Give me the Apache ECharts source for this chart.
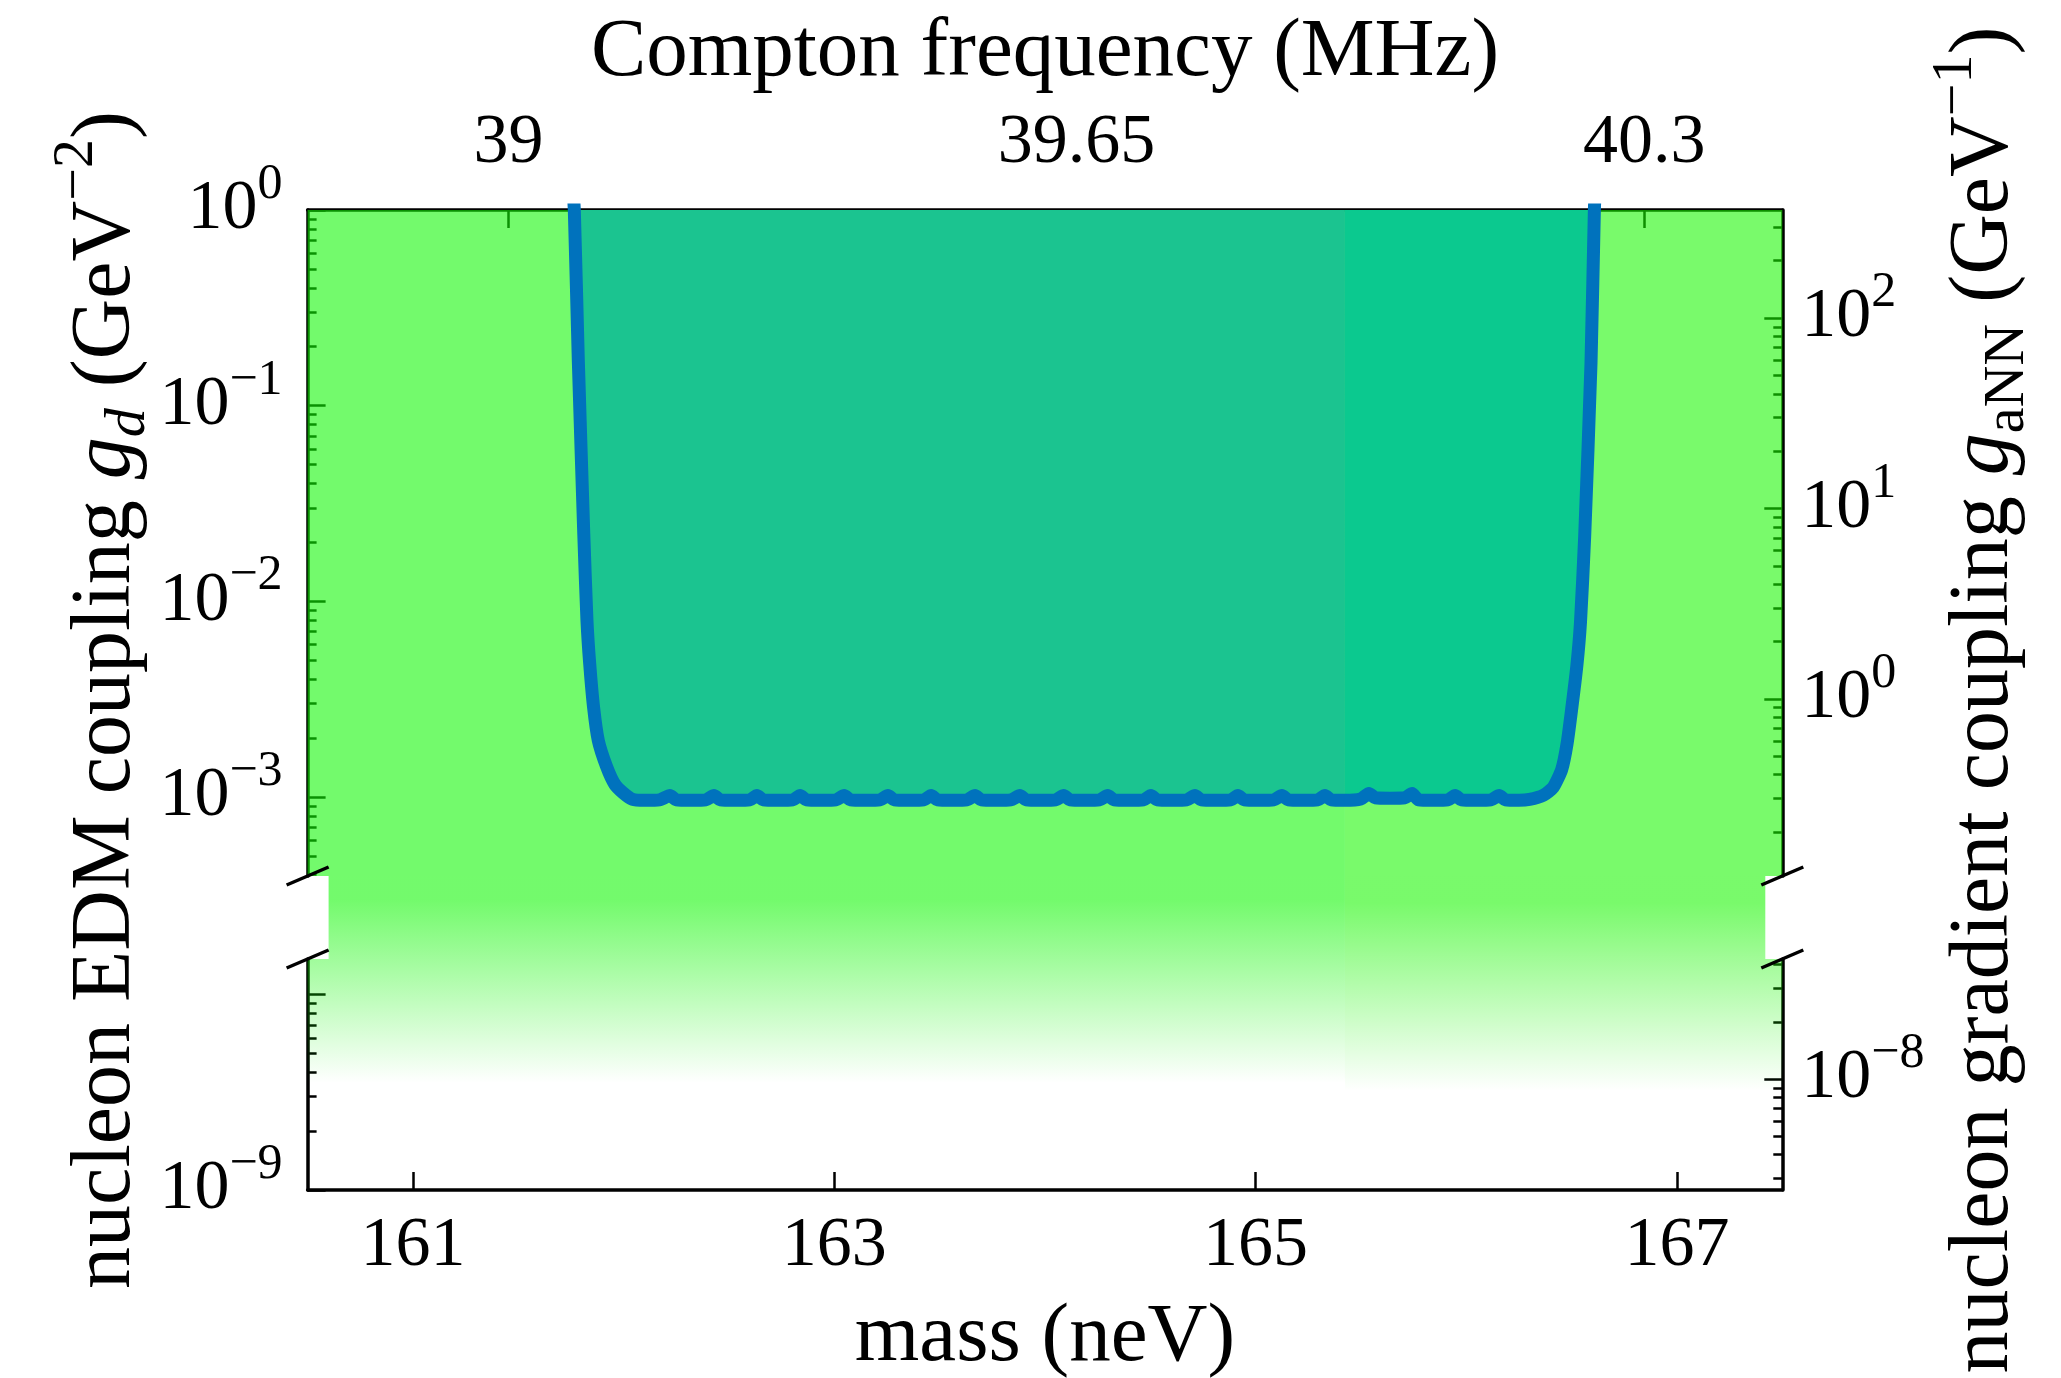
<!DOCTYPE html>
<html>
<head>
<meta charset="utf-8">
<script src="https://cdn.jsdelivr.net/npm/echarts@6/dist/echarts.min.js"></script>
<style>
html,body{margin:0;padding:0;background:#ffffff;}
#chart{width:2061px;height:1378px;}
</style>
</head>
<body>
<div id="chart"></div>
<script>
// ---------------- data ----------------
const massRange = [160.5, 167.5];            // neV
const freqRange = [38.770, 40.458];          // MHz (top axis, aligned with mass axis)
const gdUpperRange = [3.94e-4, 1];           // GeV^-2, upper panel
const gdLowerRange = [1e-9, 1.52e-8];        // GeV^-2, lower panel
const gaUpperRange = [0.1175, 369.4];        // GeV^-1, upper panel (right axis)
const gaLowerRange = [2.61e-9, 4.28e-8];     // GeV^-1, lower panel (right axis)

const massTicks = [161, 163, 165, 167];
const freqTicks = [39, 39.65, 40.3];
const gdUpperTicks = [1e-3, 1e-2, 1e-1, 1];
const gdLowerMajor = [1e-9, 1e-8];
const gdLowerLabels = [1e-9];
const gaUpperTicks = [1, 10, 100];
const gaLowerTicks = [1e-8];

// mass boundary between the two measurement bands
const bandEdges = [160.5, 165.424, 167.5];

// exclusion limit curve (mass in neV, g_d in GeV^-2)
const curveMass = [
  161.755, 161.766, 161.785, 161.811, 161.826, 161.839, 161.857, 161.880, 161.919, 161.958, 161.997, 162.043, 162.100, 162.170,
  162.220, 162.250, 162.320, 162.390,
  162.429, 162.459, 162.529, 162.599,
  162.633, 162.663, 162.733, 162.803,
  162.838, 162.868, 162.938, 163.008,
  163.047, 163.077, 163.147, 163.217,
  163.255, 163.285, 163.355, 163.425,
  163.460, 163.490, 163.560, 163.630,
  163.668, 163.698, 163.768, 163.838,
  163.881, 163.911, 163.981, 164.051,
  164.089, 164.119, 164.189, 164.259,
  164.298, 164.328, 164.398, 164.468,
  164.503, 164.533, 164.603, 164.673,
  164.712, 164.742, 164.812, 164.882,
  164.916, 164.946, 165.016, 165.086,
  165.125, 165.155, 165.225, 165.295,
  165.329, 165.359, 165.424, 165.499,
  165.538, 165.568, 165.638, 165.708,
  165.743, 165.773, 165.843, 165.913,
  165.947, 165.977, 166.047, 166.117,
  166.156, 166.186, 166.250, 166.300,
  166.366, 166.413, 166.453, 166.478, 166.500, 166.525, 166.542, 166.562, 166.592, 166.608, 166.615
];
const curveG = [
  1.5, 1.0, 0.17, 0.022, 0.0080, 0.0048, 0.0029, 0.00194, 0.00143, 0.00116, 0.00105, 0.00097, 0.00096, 0.000965,
  0.001015, 0.000965, 0.00096, 0.000965,
  0.001015, 0.000965, 0.00096, 0.000965,
  0.001015, 0.000965, 0.00096, 0.000965,
  0.001015, 0.000965, 0.00096, 0.000965,
  0.001015, 0.000965, 0.00096, 0.000965,
  0.001015, 0.000965, 0.00096, 0.000965,
  0.001015, 0.000965, 0.00096, 0.000965,
  0.001015, 0.000965, 0.00096, 0.000965,
  0.001015, 0.000965, 0.00096, 0.000965,
  0.001015, 0.000965, 0.00096, 0.000965,
  0.001015, 0.000965, 0.00096, 0.000965,
  0.001015, 0.000965, 0.00096, 0.000965,
  0.001015, 0.000965, 0.00096, 0.000965,
  0.001015, 0.000965, 0.00096, 0.000965,
  0.001015, 0.000965, 0.00096, 0.000965,
  0.001015, 0.000965, 0.00096, 0.000975,
  0.00104, 0.00099, 0.000985, 0.00099,
  0.00104, 0.000965, 0.00096, 0.000965,
  0.001015, 0.000965, 0.00096, 0.000965,
  0.001015, 0.000965, 0.00096, 0.00097,
  0.00102, 0.00112, 0.00138, 0.00186, 0.0028, 0.0047, 0.0078, 0.0215, 0.165, 1.0, 1.5
];

// ---------------- styles ----------------
const FONT = 'Liberation Serif';
const TEXT = '#000000';
const LINE_BLUE = '#0072BD';
const TEAL = ['#1BC490', '#0BC98F'];
const GREEN = ['rgba(17,247,5,0.59)', 'rgba(24,246,0,0.58)'];
const GREEN_CLEAR = ['rgba(17,247,5,0)', 'rgba(24,246,0,0)'];
const FADE_FROM = [-59, -56];   // px relative to top of lower panel
const FADE_TO = [124, 132];
const GAP_PX = 83;              // height of the axis break
const GAP_INSET = [21, 17];     // gap fill inset at left / right

const L10 = v => Math.log10(v);
const curveData = curveMass.map((m, i) => [m, L10(curveG[i])]);
const leftPart = curveData.filter(p => p[0] <= bandEdges[1]);
const rightPart = curveData.filter(p => p[0] >= bandEdges[1]);
const bandData = bandEdges.slice(0, -1).map((e, i) => [e, bandEdges[i + 1]]);

function minorLogs(range) {
  const lo = L10(range[0]), hi = L10(range[1]);
  const out = [];
  for (let d = Math.floor(lo); d <= Math.ceil(hi); d++) {
    for (let k = 2; k <= 9; k++) {
      const v = L10(k) + d;
      if (v > lo && v < hi) out.push(v);
    }
  }
  return out;
}

function powLabel(v) {
  const e = Math.round(v);
  return '{b|10}{s|' + (e < 0 ? '\u2212' + (-e) : String(e)) + '}';
}
const POW_RICH = {
  b: {fontFamily: FONT, fontSize: 70, lineHeight: 80, color: TEXT, verticalAlign: 'middle'},
  s: {fontFamily: FONT, fontSize: 50, lineHeight: 56, color: TEXT, verticalAlign: 'middle', padding: [0, 0, 50, 0]}
};
const TITLE_RICH = {
  t: {fontFamily: FONT, fontSize: 84, lineHeight: 100, color: TEXT, verticalAlign: 'middle'},
  i: {fontFamily: FONT, fontSize: 84, fontStyle: 'italic', lineHeight: 100, color: TEXT, verticalAlign: 'middle'},
  si: {fontFamily: FONT, fontSize: 58, fontStyle: 'italic', lineHeight: 66, color: TEXT, verticalAlign: 'middle', padding: [44, 0, 0, 0]},
  sub: {fontFamily: FONT, fontSize: 58, lineHeight: 66, color: TEXT, verticalAlign: 'middle', padding: [44, 0, 0, 0]},
  sup: {fontFamily: FONT, fontSize: 58, lineHeight: 66, color: TEXT, verticalAlign: 'middle', padding: [0, 0, 60, 0]}
};
const SPINE = {show: true, onZero: false, lineStyle: {color: '#000', width: 3.5}};
const TICK_STYLE = {color: '#000', width: 2.5};

function yMajor(grid, pos, range, ticks, labels, margin) {
  return {
    type: 'value', gridIndex: grid, position: pos,
    min: L10(range[0]), max: L10(range[1]),
    axisLine: SPINE,
    axisTick: {show: true, inside: true, length: 18, customValues: ticks.map(L10), lineStyle: TICK_STYLE},
    axisLabel: {show: labels.length > 0, customValues: labels.map(L10), margin: margin,
      formatter: powLabel, rich: POW_RICH, fontFamily: FONT, color: TEXT},
    splitLine: {show: false}
  };
}
function yMinor(grid, pos, range) {
  return {
    type: 'value', gridIndex: grid, position: pos,
    min: L10(range[0]), max: L10(range[1]),
    axisLine: {show: false, onZero: false},
    axisTick: {show: true, inside: true, length: 9, customValues: minorLogs(range), lineStyle: TICK_STYLE},
    axisLabel: {show: false},
    splitLine: {show: false}
  };
}

function renderUpperBg(params, api) {
  const i = params.dataIndex;
  const p0 = api.coord([api.value(0), L10(gdUpperRange[1])]);
  const p1 = api.coord([api.value(1), L10(gdUpperRange[0])]);
  return {type: 'rect', shape: {x: p0[0], y: p0[1], width: p1[0] - p0[0], height: p1[1] - p0[1]},
    style: {fill: GREEN[i]}};
}
function renderLowerBg(params, api) {
  const i = params.dataIndex, last = bandData.length - 1;
  const tl = api.coord([api.value(0), L10(gdLowerRange[1])]);
  const br = api.coord([api.value(1), L10(gdLowerRange[0])]);
  const grad = new echarts.graphic.LinearGradient(0, tl[1] + FADE_FROM[i], 0, tl[1] + FADE_TO[i],
    [{offset: 0, color: GREEN[i]}, {offset: 1, color: GREEN_CLEAR[i]}], true);
  const gx0 = i === 0 ? tl[0] + GAP_INSET[0] : tl[0];
  const gx1 = i === last ? br[0] - GAP_INSET[1] : br[0];
  return {type: 'group', children: [
    {type: 'rect', shape: {x: gx0, y: tl[1] - GAP_PX, width: gx1 - gx0, height: GAP_PX}, style: {fill: grad}},
    {type: 'rect', shape: {x: tl[0], y: tl[1], width: br[0] - tl[0], height: br[1] - tl[1]}, style: {fill: grad}}
  ]};
}
function renderBreak(params, api) {
  const p = api.coord([api.value(0), api.value(1)]);
  return {type: 'line', shape: {x1: p[0] - 21, y1: p[1] + 9, x2: p[0] + 21, y2: p[1] - 9},
    style: {stroke: '#000', lineWidth: 3.5}};
}

const GRID_LEFT = 307.6, GRID_RIGHT = 2061 - 1782.3;

const option = {
  animation: false,
  backgroundColor: '#ffffff',
  grid: [
    {left: GRID_LEFT, right: GRID_RIGHT, top: 210, height: 666, outerBoundsMode: 'none'},
    {left: GRID_LEFT, right: GRID_RIGHT, top: 959, height: 231, outerBoundsMode: 'none'},
    {left: GRID_LEFT, right: GRID_RIGHT, top: 210, height: 980, outerBoundsMode: 'none'}
  ],
  xAxis: [
    {type: 'value', gridIndex: 0, position: 'top', min: freqRange[0], max: freqRange[1],
      axisLine: SPINE,
      axisTick: {show: true, inside: true, length: 18, customValues: freqTicks, lineStyle: TICK_STYLE},
      axisLabel: {customValues: freqTicks, margin: 26, fontFamily: FONT, fontSize: 70, lineHeight: 80, color: TEXT,
        formatter: v => String(v)},
      splitLine: {show: false},
      name: 'Compton frequency (MHz)', nameLocation: 'middle', nameGap: 107,
      nameTextStyle: {fontFamily: FONT, fontSize: 83, lineHeight: 100, color: TEXT}},
    {type: 'value', gridIndex: 0, position: 'bottom', min: massRange[0], max: massRange[1], show: false},
    {type: 'value', gridIndex: 1, position: 'bottom', min: massRange[0], max: massRange[1],
      axisLine: SPINE,
      axisTick: {show: true, inside: true, length: 18, customValues: massTicks, lineStyle: TICK_STYLE},
      axisLabel: {customValues: massTicks, margin: 17, fontFamily: FONT, fontSize: 70, lineHeight: 80, color: TEXT,
        formatter: v => String(v)},
      splitLine: {show: false},
      name: 'mass (neV)', nameLocation: 'middle', nameGap: 92,
      nameTextStyle: {fontFamily: FONT, fontSize: 83, lineHeight: 100, color: TEXT}},
    {type: 'value', gridIndex: 2, min: 0, max: 1, show: false}
  ],
  yAxis: [
    yMajor(0, 'left', gdUpperRange, gdUpperTicks, gdUpperTicks, 25),     // 0
    yMinor(0, 'left', gdUpperRange),                                     // 1
    yMajor(0, 'right', gaUpperRange, gaUpperTicks, gaUpperTicks, 19),    // 2
    yMinor(0, 'right', gaUpperRange),                                    // 3
    yMajor(1, 'left', gdLowerRange, gdLowerMajor, gdLowerLabels, 25),    // 4
    yMinor(1, 'left', gdLowerRange),                                     // 5
    yMajor(1, 'right', gaLowerRange, gaLowerTicks, gaLowerTicks, 19),    // 6
    yMinor(1, 'right', gaLowerRange),                                    // 7
    {type: 'value', gridIndex: 2, position: 'left', min: 0, max: 1,
      axisLine: {show: false}, axisTick: {show: false}, axisLabel: {show: false}, splitLine: {show: false},
      name: '{t|nucleon EDM coupling }{i|g}{si|d}{t| (GeV}{sup|\u22122}{t|)}',
      nameLocation: 'middle', nameRotate: 90, nameGap: 151,
      nameTextStyle: {fontFamily: FONT, fontSize: 84, color: TEXT, rich: TITLE_RICH}},
    {type: 'value', gridIndex: 2, position: 'right', min: 0, max: 1,
      axisLine: {show: false}, axisTick: {show: false}, axisLabel: {show: false}, splitLine: {show: false},
      name: '{t|nucleon gradient coupling }{i|g}{sub|aNN}{t| (GeV}{sup|\u22121}{t|)}',
      nameLocation: 'middle', nameRotate: 90, nameGap: 153,
      nameTextStyle: {fontFamily: FONT, fontSize: 84, color: TEXT, rich: TITLE_RICH}}
  ],
  series: [
    {type: 'custom', name: 'band-upper', xAxisIndex: 1, yAxisIndex: 0, silent: true,
      data: bandData, renderItem: renderUpperBg},
    {type: 'custom', name: 'band-lower', xAxisIndex: 2, yAxisIndex: 4, silent: true,
      data: bandData, renderItem: renderLowerBg},
    {type: 'line', name: 'excluded-1', xAxisIndex: 1, yAxisIndex: 0, data: leftPart,
      showSymbol: false, smooth: 0.2, silent: true,
      lineStyle: {width: 0, opacity: 0}, areaStyle: {origin: 'end', color: TEAL[0], opacity: 1}},
    {type: 'line', name: 'excluded-2', xAxisIndex: 1, yAxisIndex: 0, data: rightPart,
      showSymbol: false, smooth: 0.2, silent: true,
      lineStyle: {width: 0, opacity: 0}, areaStyle: {origin: 'end', color: TEAL[1], opacity: 1}},
    {type: 'line', name: 'limit', xAxisIndex: 1, yAxisIndex: 0, data: curveData,
      showSymbol: false, smooth: 0.2, silent: true,
      lineStyle: {color: LINE_BLUE, width: 13, join: 'round'}},
    {type: 'custom', name: 'break-upper', xAxisIndex: 1, yAxisIndex: 0, silent: true,
      data: [[massRange[0], L10(gdUpperRange[0])], [massRange[1], L10(gdUpperRange[0])]],
      renderItem: renderBreak},
    {type: 'custom', name: 'break-lower', xAxisIndex: 2, yAxisIndex: 4, silent: true,
      data: [[massRange[0], L10(gdLowerRange[1])], [massRange[1], L10(gdLowerRange[1])]],
      renderItem: renderBreak}
  ]
};

const chart = echarts.init(document.getElementById('chart'), null, {renderer: 'canvas'});
chart.setOption(option);
</script>
</body>
</html>
